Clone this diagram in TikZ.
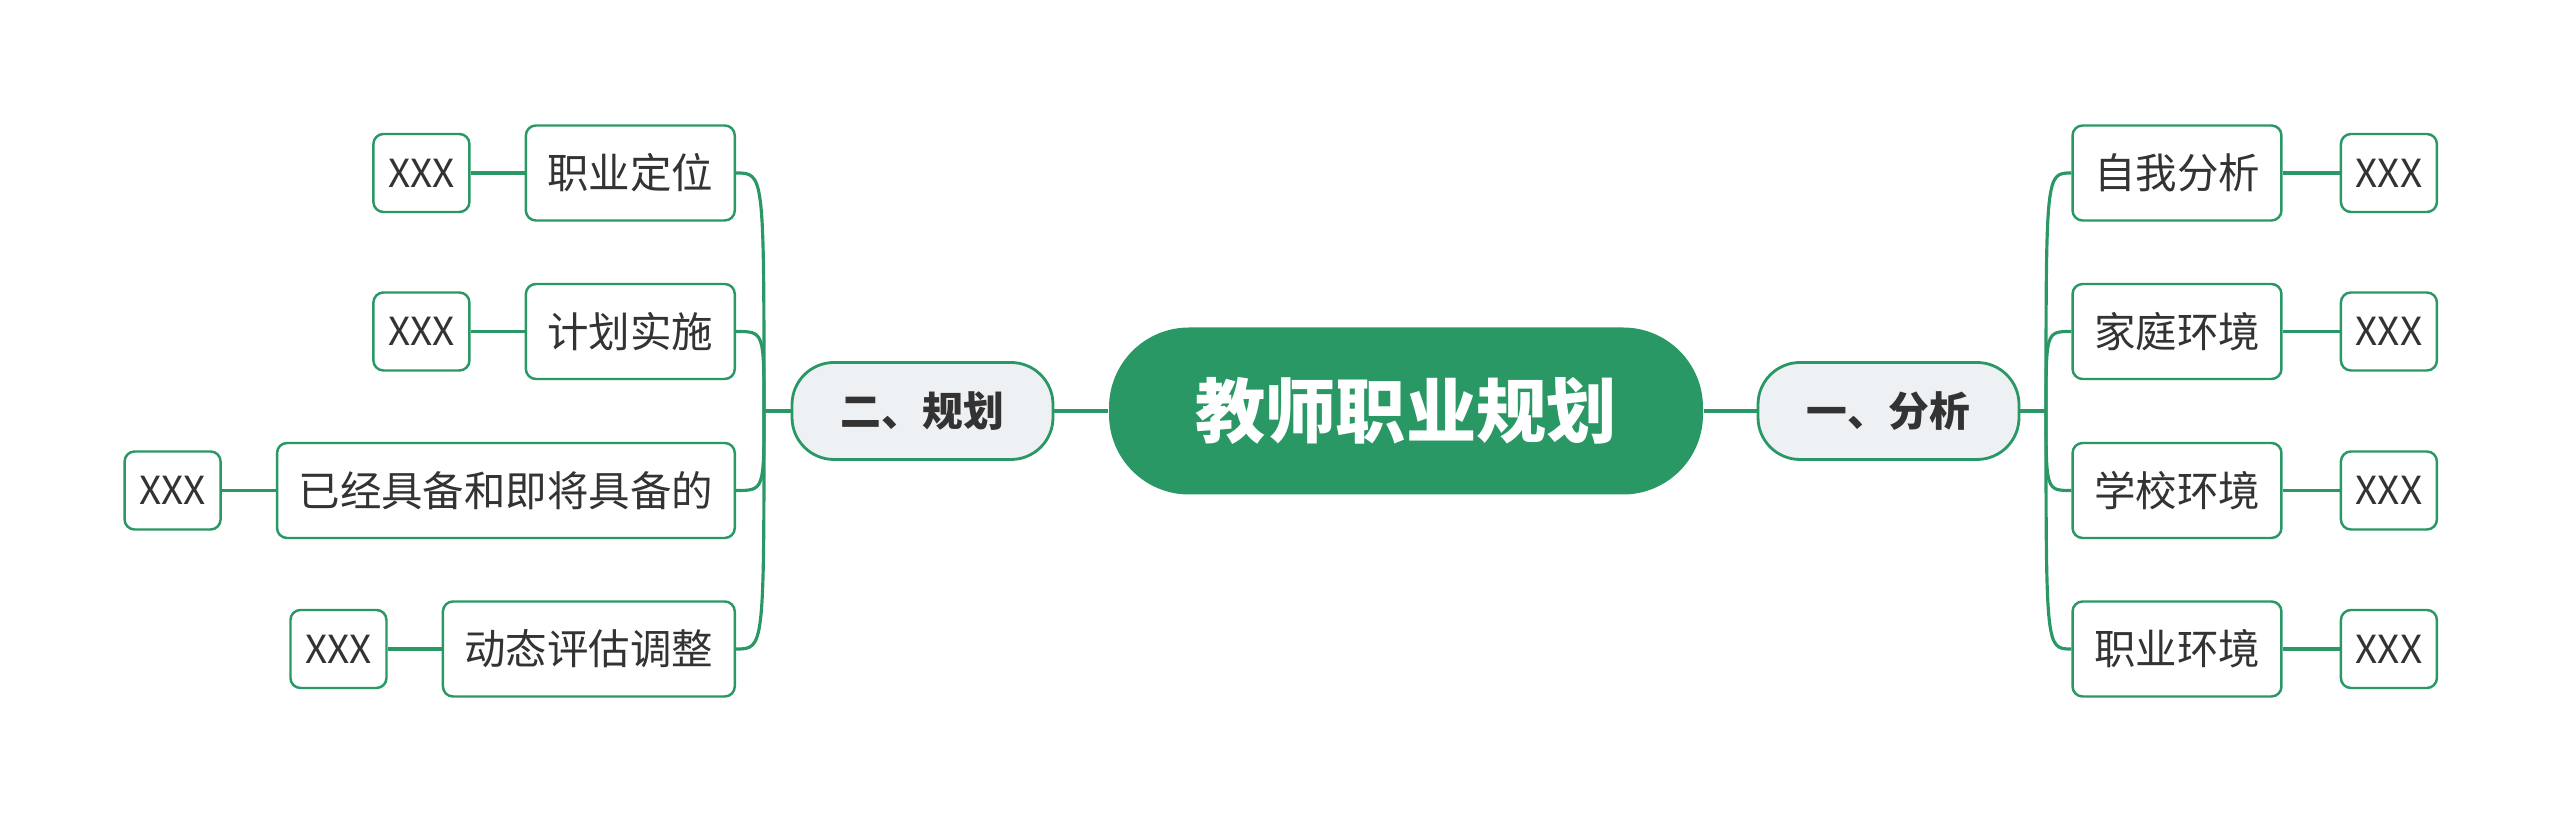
\documentclass[tikz,border=0pt]{standalone}
\usepackage{fontspec}
\newfontfamily\cjk{Noto Sans CJK SC}
\usetikzlibrary{positioning}
\definecolor{mapGreen}{RGB}{41,152,101}
\definecolor{mapGray}{RGB}{238,241,244}
\definecolor{mapText}{RGB}{51,51,51}

\begin{document}
\begin{tikzpicture}
	\tikzstyle{mainStyle} = [shape = rectangle, rounded corners = 0.8cm, minimum width = 5.94cm, minimum height = 1.67cm, fill = mapGreen, text = white, font = \cjk\bfseries\fontsize{20}{24}\selectfont]
	\tikzstyle{branchStyle} = [shape = rectangle, rounded corners = 0.42cm, minimum width = 2.61cm, minimum height = 0.97cm, draw = mapGreen, line width = 0.8pt, fill = mapGray, text = mapText, font = \cjk\bfseries\fontsize{11.6}{14}\selectfont]
	\tikzstyle{leafStyle} = [shape = rectangle, rounded corners = 0.1cm, minimum height = 0.95cm, inner xsep = 0.215cm, draw = mapGreen, line width = 0.7pt, fill = white, text = mapText, font = \cjk\fontsize{11.8}{14}\selectfont]
	\tikzstyle{xxxStyle} = [shape = rectangle, rounded corners = 0.1cm, minimum width = 0.96cm, minimum height = 0.78cm, draw = mapGreen, line width = 0.7pt, fill = white, text = mapText, font = \cjk\fontsize{11}{13}\selectfont]
	\tikzstyle{edgeStyle} = [draw = mapGreen, line width = 0.9pt]
	\useasboundingbox (0,0) rectangle (25.6,8.23);
	\node[mainStyle] (root) at (14.06,4.12) {教师职业规划};
	\node[branchStyle] (bL) at (9.225,4.12) {二、规划};
	\node[branchStyle] (bR) at (18.885,4.12) {一、分析};
	\coordinate (tL) at (7.64,4.12);
	\coordinate (tR) at (20.46,4.12);
	\node[leafStyle] (r1) at (21.77,6.50) {自我分析};
	\node[leafStyle] (r2) at (21.77,4.915) {家庭环境};
	\node[leafStyle] (r3) at (21.77,3.325) {学校环境};
	\node[leafStyle] (r4) at (21.77,1.74) {职业环境};
	\node[leafStyle, anchor = east] (l1) at (7.36,6.50) {职业定位};
	\node[leafStyle, anchor = east] (l2) at (7.36,4.915) {计划实施};
	\node[leafStyle, anchor = east] (l3) at (7.36,3.325) {已经具备和即将具备的};
	\node[leafStyle, anchor = east] (l4) at (7.36,1.74) {动态评估调整};
	\node[xxxStyle, right = 0.57cm of r1] (rx1) {XXX};
	\node[xxxStyle, right = 0.57cm of r2] (rx2) {XXX};
	\node[xxxStyle, right = 0.57cm of r3] (rx3) {XXX};
	\node[xxxStyle, right = 0.57cm of r4] (rx4) {XXX};
	\node[xxxStyle, left = 0.54cm of l1] (lx1) {XXX};
	\node[xxxStyle, left = 0.54cm of l2] (lx2) {XXX};
	\node[xxxStyle, left = 0.54cm of l3] (lx3) {XXX};
	\node[xxxStyle, left = 0.54cm of l4] (lx4) {XXX};
	\draw[edgeStyle] (root) -- (bL);
	\draw[edgeStyle] (root) -- (bR);
	\draw[edgeStyle] (bR) -- (tR);
	\draw[edgeStyle] (bL) -- (tL);
	\foreach \n in {1,2,3,4}
	{
		\draw[edgeStyle] (tR) .. controls (tR |- r\n.west) .. (r\n.west);
		\draw[edgeStyle] (tL) .. controls (tL |- l\n.east) .. (l\n.east);
		\draw[edgeStyle] (r\n) -- (rx\n);
		\draw[edgeStyle] (l\n) -- (lx\n);
	}
\end{tikzpicture}
\end{document}
